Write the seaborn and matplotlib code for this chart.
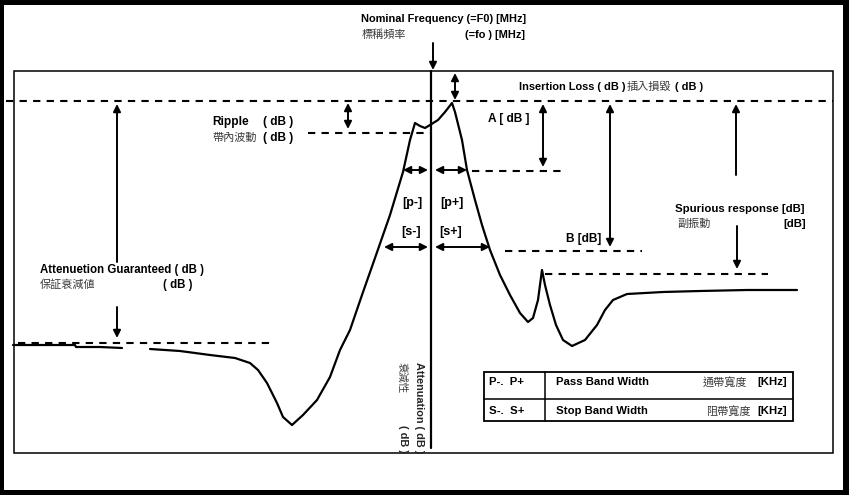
import matplotlib
matplotlib.use("Agg")
import matplotlib.pyplot as plt
from matplotlib.patches import Rectangle
import seaborn as sns
import pandas as pd

sns.set_style("white")
plt.rcParams['font.family'] = ['Liberation Sans', 'Noto Sans CJK TC', 'DejaVu Sans']

# ---- data: filter response curve (frequency position, attenuation position; schematic units) ----
seg_left_freq = [13, 40, 75, 76, 100, 122]
seg_left_att = [345, 345, 345, 347, 347, 348]

seg_main_freq = [150, 180, 210, 235, 250, 258, 267, 277, 283, 292, 303, 317, 330, 340, 350,
                 362, 375, 390, 403, 410, 415, 420, 425, 430, 438, 445, 452,
                 455, 462, 467, 475, 482, 490, 500, 510, 520, 528, 533, 538, 542,
                 545, 550, 556, 563, 572, 585, 597, 605, 613, 627, 663, 700, 747, 797]
seg_main_att = [349, 351, 355, 358, 363, 370, 383, 403, 417, 425, 415, 400, 377, 350, 330,
                295, 258, 215, 172, 140, 123, 126, 128, 125, 120, 112, 103,
                112, 140, 170, 200, 225, 250, 275, 295, 313, 322, 318, 300, 270,
                285, 305, 325, 340, 346, 340, 325, 310, 300, 294, 292, 291, 290, 290]

# reference levels
insertion_loss_level = 101
ripple_level = 133
a_level = 171
b_level = 251
spurious_level = 274
guaranteed_level = 343
f0 = 431

df = pd.DataFrame({
    "freq": seg_left_freq + seg_main_freq,
    "att": seg_left_att + seg_main_att,
    "seg": ["a"] * len(seg_left_freq) + ["b"] * len(seg_main_freq),
})

W, H = 849, 495
fig = plt.figure(figsize=(W / 100, H / 100), dpi=100, facecolor="black")
ax = fig.add_axes([0, 0, 1, 1])
ax.set_facecolor("black")

ax.add_patch(Rectangle((4, 5), 839, 485, facecolor="white", edgecolor="none", zorder=0))
ax.add_patch(Rectangle((14, 71), 819, 382, facecolor="none", edgecolor="black", lw=1.1, zorder=1))

sns.lineplot(data=df, x="freq", y="att", units="seg", estimator=None, sort=False,
             color="black", lw=1.6, ax=ax, legend=False, zorder=3)
ax.set_xlim(0, W)
ax.set_ylim(H, 0)
ax.axis("off")

# centre line (nominal frequency / attenuation axis)
ax.plot([f0, f0], [71, 448], color="black", lw=1.6, zorder=3)

dash = (0, (3.5, 3))
def hdash(y, x0, x1):
    ax.plot([x0, x1], [y, y], color="black", lw=1.5, linestyle=dash, zorder=2)

hdash(insertion_loss_level, 6, 833)
hdash(ripple_level, 308, 430)
hdash(a_level, 472, 565)
hdash(b_level, 505, 642)
hdash(spurious_level, 545, 768)
hdash(guaranteed_level, 18, 272)

def arrow(x0, y0, x1, y1, style="-|>"):
    ax.annotate("", xy=(x1, y1), xytext=(x0, y0),
                arrowprops=dict(arrowstyle=style, color="black", lw=1.4,
                                mutation_scale=11, shrinkA=0, shrinkB=0), zorder=4)

arrow(433, 43, 433, 70)                         # nominal frequency
arrow(455, 73, 455, 100, "<|-|>")               # insertion loss
arrow(348, 103, 348, 129, "<|-|>")              # ripple
arrow(543, 104, 543, 167, "<|-|>")              # A
arrow(610, 104, 610, 247, "<|-|>")              # B
arrow(736, 175, 736, 104)                       # spurious up
arrow(737, 226, 737, 269)                       # spurious down
arrow(117, 262, 117, 104)                       # guaranteed up
arrow(117, 307, 117, 338)                       # guaranteed down
arrow(403, 170, 428, 170, "<|-|>")              # p-
arrow(435, 170, 467, 170, "<|-|>")              # p+
arrow(384, 247, 428, 247, "<|-|>")              # s-
arrow(435, 247, 490, 247, "<|-|>")              # s+

EN = ['Liberation Sans', 'DejaVu Sans']
CJ = ['Noto Sans CJK TC', 'DejaVu Sans']
FS = 8.2
def t(x, y, s, ha="left", size=FS, cjk=False, **kw):
    if cjk:
        ax.text(x, y, s, ha=ha, va="center", fontsize=8, family=CJ,
                color="#3a3a3a", zorder=5, **kw)
    else:
        ax.text(x, y, s, ha=ha, va="center", fontsize=size, family=EN,
                fontweight="bold", color="black", zorder=5, **kw)

t(361, 19, "Nominal Frequency (=F0) [MHz]", size=7.9)
t(362, 35, "標稱頻率", cjk=True)
t(465, 35, "(=fo ) [MHz]", size=7.9)

t(519, 87, "Insertion Loss ( dB )", size=7.9)
t(627, 87, "插入損毀", cjk=True)
t(675, 87, "( dB )", size=7.9)

t(212, 122, "Ripple", size=8.6)
t(263, 122, "( dB )", size=8.6)
t(212, 138, "帶內波動", cjk=True)
t(263, 138, "( dB )", size=8.6)

t(488, 119, "A [ dB ]", size=8.6)
t(601, 239, "B [dB]", ha="right", size=8.6)

t(675, 209, "Spurious response [dB]")
t(677, 224, "副振動", cjk=True)
t(806, 224, "[dB]", ha="right")

t(412, 203, "[p-]", ha="center", size=9)
t(452, 203, "[p+]", ha="center", size=9)
t(411, 232, "[s-]", ha="center", size=9)
t(451, 232, "[s+]", ha="center", size=9)

t(40, 270, "Attenuetion Guaranteed ( dB )", size=8.3)
t(40, 285, "保証衰減値", cjk=True)
t(193, 285, "( dB )", ha="right", size=8.3)

# vertical axis label
ax.text(419, 362, "Attenuation ( dB )", rotation=-90, ha="center", va="top",
        fontsize=7.8, family=EN, fontweight="bold", zorder=5)
ax.text(402, 362, "衰減性", rotation=-90, ha="center", va="top",
        fontsize=7.5, family=CJ, color="#3a3a3a", zorder=5)
ax.text(403, 425, "( dB )", rotation=-90, ha="center", va="top",
        fontsize=7.8, family=EN, fontweight="bold", zorder=5)

# legend table
ax.add_patch(Rectangle((484, 372), 309, 49, facecolor="white", edgecolor="black", lw=1.3, zorder=4))
ax.plot([484, 793], [399, 399], color="black", lw=1.1, zorder=5)
ax.plot([545, 545], [372, 421], color="black", lw=1.1, zorder=5)
t(489, 382, "P-.  P+")
t(556, 382, "Pass Band Width")
t(703, 382, "通帶寬度", cjk=True)
t(787, 382, "[KHz]", ha="right")
t(489, 411, "S-.  S+")
t(556, 411, "Stop Band Width")
t(706, 411, "阻帶寬度", cjk=True)
t(787, 411, "[KHz]", ha="right")

fig.savefig("out.png", dpi=100, facecolor=fig.get_facecolor())
